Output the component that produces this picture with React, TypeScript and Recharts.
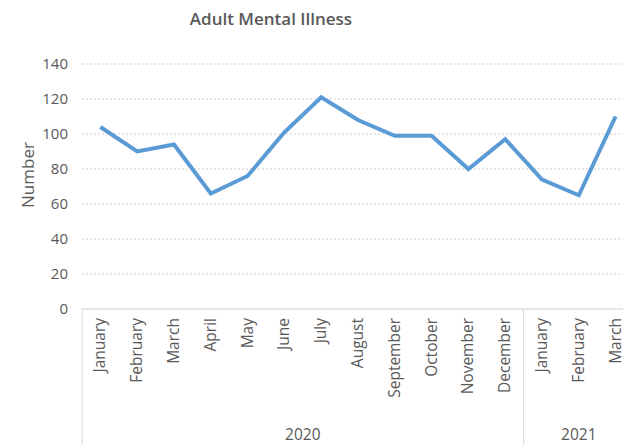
import { CartesianGrid, Line, LineChart, XAxis, YAxis } from "recharts";

const months = [
  "January", "February", "March", "April", "May", "June", "July", "August",
  "September", "October", "November", "December", "January", "February", "March",
];
const years = [
  "2020", "2020", "2020", "2020", "2020", "2020", "2020", "2020",
  "2020", "2020", "2020", "2020", "2021", "2021", "2021",
];
const values = [104, 90, 94, 66, 76, 101, 121, 108, 99, 99, 80, 97, 74, 65, 110];
const yTicks = [0, 20, 40, 60, 80, 100, 120, 140];

const data = months.map((m, i) => ({ key: `${years[i]}-${i}`, month: m, year: years[i], value: values[i] }));

const FONT = "'Open Sans', sans-serif";
const GREY = "#595959";

// month label rotated, plus year group separators and labels under them
function MonthTick(props: any) {
  const { x, y, payload, index } = props;
  const half = payload.offset ?? 18;
  const row = data[index];
  const first = index === 0 || data[index - 1].year !== row.year;
  const count = data.filter((d) => d.year === row.year).length;
  const ty = y + 9;
  return (
    <g>
      <text
        x={x - 1}
        y={ty}
        transform={`rotate(-90, ${x - 1}, ${ty})`}
        textAnchor="end"
        dominantBaseline="central"
        fill={GREY}
        fontSize={15.5}
        fontFamily={FONT}
      >
        {row.month}
      </text>
      {first && (
        <>
          <line x1={x - half} x2={x - half} y1={y} y2={y + 140} stroke="#d9d9d9" strokeWidth={1} />
          <text
            x={x - half + count * half}
            y={y + 125}
            textAnchor="middle"
            dominantBaseline="central"
            fill={GREY}
            fontSize={15.5}
            fontFamily={FONT}
          >
            {row.year}
          </text>
        </>
      )}
    </g>
  );
}

export default function App() {
  return (
    <div style={{ position: "absolute", left: 0, top: 0, width: 623, height: 445, overflow: "hidden", background: "#fff" }}>
      <div
        style={{
          position: "absolute", left: 0, top: 7, width: 542, textAlign: "center",
          fontFamily: FONT, fontWeight: 600, fontSize: 17, color: GREY,
        }}
      >
        Adult Mental Illness
      </div>
      <div
        style={{
          position: "absolute", left: 27, top: 175, transform: "translate(-50%, -50%) rotate(-90deg)",
          fontFamily: FONT, fontSize: 17, color: GREY, whiteSpace: "nowrap",
        }}
      >
        Number
      </div>
      <LineChart width={640} height={445} data={data} margin={{ top: 64, right: 6, bottom: 0, left: 0 }}>
        <CartesianGrid vertical={false} stroke="#cfcfcf" strokeDasharray="2 2" />
        <XAxis
          dataKey="key"
          scale="band"
          interval={0}
          height={136}
          tick={<MonthTick />}
          tickLine={false}
          tickSize={0}
          tickMargin={0}
          axisLine={{ stroke: "#d9d9d9" }}
        />
        <YAxis
          domain={[0, 140]}
          ticks={yTicks}
          width={82}
          axisLine={false}
          tickLine={false}
          tickSize={6}
          tickMargin={8}
          tick={{ fill: GREY, fontSize: 15, fontFamily: FONT }}
        />
        <Line type="linear" dataKey="value" stroke="#5b9bd5" strokeWidth={4} dot={false} isAnimationActive={false} />
      </LineChart>
    </div>
  );
}
